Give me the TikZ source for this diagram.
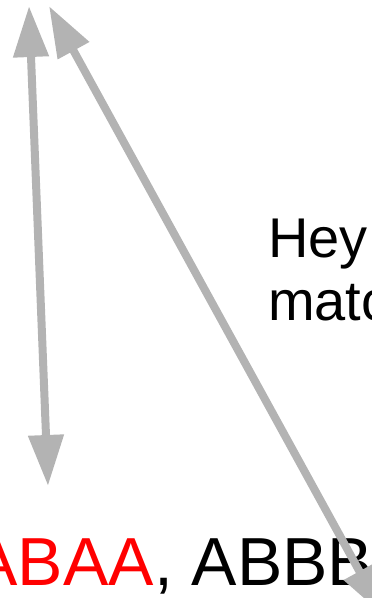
\documentclass[tikz,border=0pt]{standalone}
\usepackage{fontspec}
\setmainfont{Liberation Sans}
\usetikzlibrary{arrows.meta}
\definecolor{arrgray}{RGB}{179,179,179}
\tikzset{
  dbl/.style={draw=arrgray, line width=8pt, {Triangle[length=51pt,width=34pt]}-{Triangle[length=51pt,width=34pt]}},
  txt/.style={inner sep=0pt, outer sep=0pt},
}
\begin{document}
\begin{tikzpicture}[x=1pt,y=-1pt]
\useasboundingbox (0,0) rectangle (372,598);
\clip (0,0) rectangle (372,598);
\node[txt, anchor=base west, font=\fontsize{56}{64}\selectfont] (hey) at (268,257) {Hey};
\node[txt, anchor=base west, font=\fontsize{56}{64}\selectfont] (match) at (268,320) {match};
\node[txt, anchor=base east, text=red, font=\fontsize{68}{72}\selectfont] (abaa) at (154,585) {ABAA};
\node[txt, anchor=base west, font=\fontsize{68}{72}\selectfont] (abbb) at (abaa.base east) {, ABBB};
\coordinate (a1) at (29,6);
\coordinate (b1) at (48,486);
\coordinate (a2) at (49,6);
\coordinate (b2) at (384,616);
\draw[dbl] (a1) -- (b1);
\draw[dbl] (a2) -- (b2);
\end{tikzpicture}
\end{document}
